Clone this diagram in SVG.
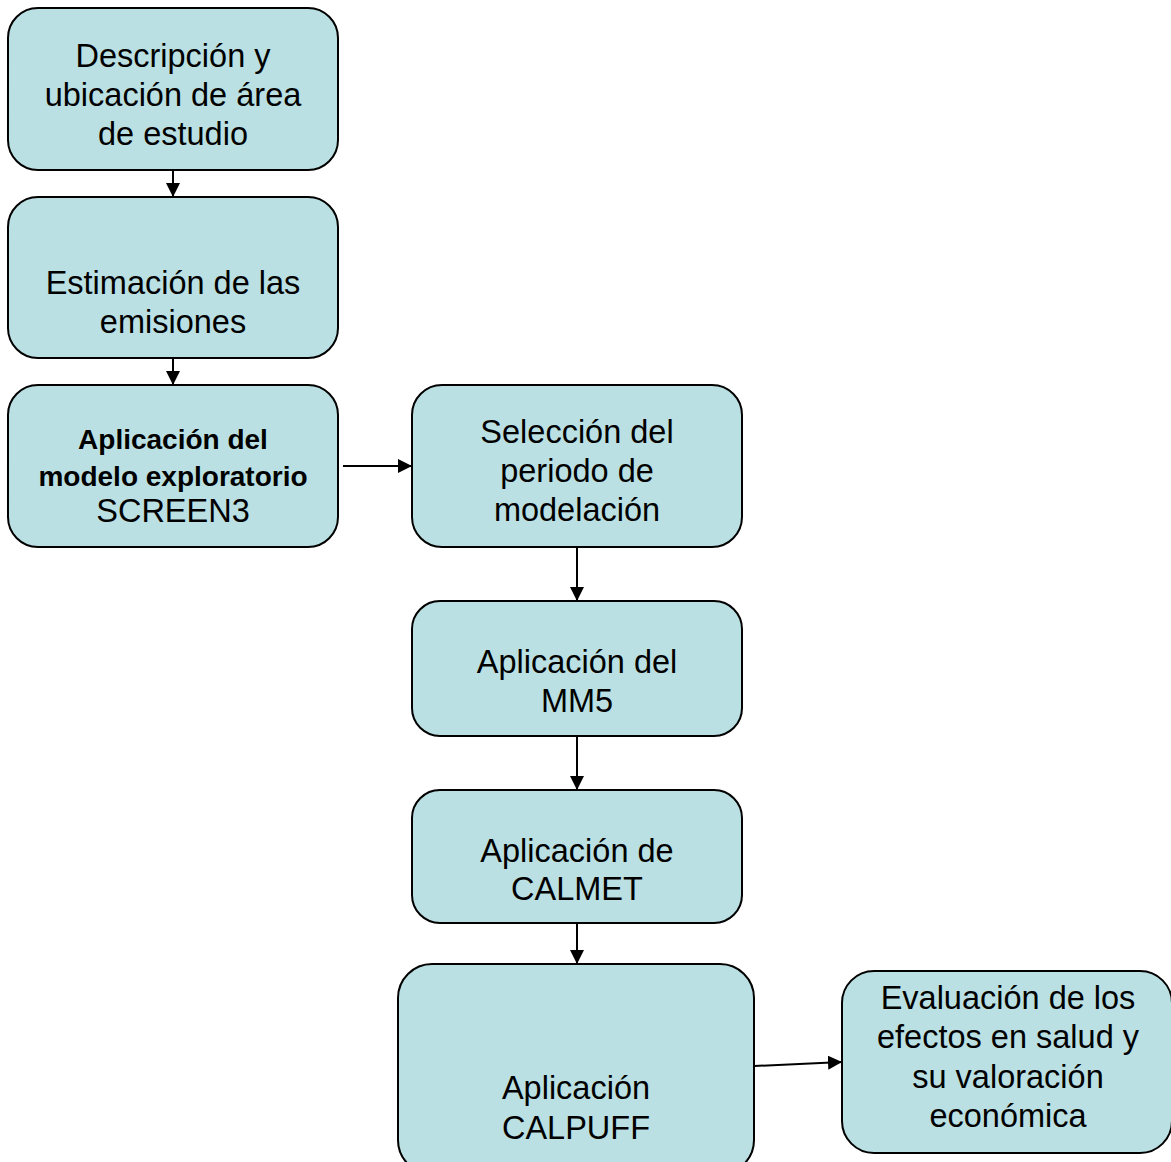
<svg xmlns="http://www.w3.org/2000/svg" width="1171" height="1162" viewBox="0 0 1171 1162">
<defs>
<style>
.box{fill:#BAE0E3;stroke:#000;stroke-width:2}
.t{font-family:"Liberation Sans",Arial,sans-serif;font-size:32.5px;fill:#000;text-anchor:middle}
.b{font-family:"Liberation Sans",Arial,sans-serif;font-size:28px;font-weight:bold;fill:#000;text-anchor:middle}
.c{stroke:#000;stroke-width:2;fill:none;marker-end:url(#ah)}
</style>
<marker id="ah" viewBox="0 0 14 14" refX="14" refY="7" markerWidth="14" markerHeight="14" markerUnits="userSpaceOnUse" orient="auto">
<path d="M0,0 L14,7 L0,14 Z" fill="#000"/>
</marker>
</defs>
<rect width="1171" height="1162" fill="#fff"/>
<g id="connectors">
<line class="c" x1="173" y1="170" x2="173" y2="197"/>
<line class="c" x1="173" y1="358" x2="173" y2="385"/>
<line class="c" x1="343" y1="466" x2="412" y2="466"/>
<line class="c" x1="577" y1="547" x2="577" y2="601"/>
<line class="c" x1="577" y1="736" x2="577" y2="790"/>
<line class="c" x1="577" y1="923" x2="577" y2="964"/>
<line class="c" x1="754" y1="1066" x2="842" y2="1062"/>
</g>
<g id="n1">
<rect class="box" x="8" y="8" width="330" height="162" rx="30"/>
<text class="t" x="173" y="67">Descripción y</text>
<text class="t" x="173" y="106">ubicación de área</text>
<text class="t" x="173" y="145">de estudio</text>
</g>
<g id="n2">
<rect class="box" x="8" y="197" width="330" height="161" rx="30"/>
<text class="t" x="173" y="294">Estimación de las</text>
<text class="t" x="173" y="333">emisiones</text>
</g>
<g id="n3">
<rect class="box" x="8" y="385" width="330" height="162" rx="30"/>
<text class="b" x="173" y="449">Aplicación del</text>
<text class="b" x="173" y="486">modelo exploratorio</text>
<text class="t" x="173" y="522">SCREEN3</text>
</g>
<g id="n4">
<rect class="box" x="412" y="385" width="330" height="162" rx="30"/>
<text class="t" x="577" y="443">Selección del</text>
<text class="t" x="577" y="482">periodo de</text>
<text class="t" x="577" y="521">modelación</text>
</g>
<g id="n5">
<rect class="box" x="412" y="601" width="330" height="135" rx="28"/>
<text class="t" x="577" y="673">Aplicación del</text>
<text class="t" x="577" y="712">MM5</text>
</g>
<g id="n6">
<rect class="box" x="412" y="790" width="330" height="133" rx="28"/>
<text class="t" x="577" y="862">Aplicación de</text>
<text class="t" x="577" y="900">CALMET</text>
</g>
<g id="n7">
<rect class="box" x="398" y="964" width="356" height="210" rx="34"/>
<text class="t" x="576" y="1099">Aplicación</text>
<text class="t" x="576" y="1139">CALPUFF</text>
</g>
<g id="n8">
<rect class="box" x="842" y="971" width="330" height="182" rx="32"/>
<text class="t" x="1008" y="1009">Evaluación de los</text>
<text class="t" x="1008" y="1048">efectos en salud y</text>
<text class="t" x="1008" y="1088">su valoración</text>
<text class="t" x="1008" y="1127">económica</text>
</g>
</svg>
